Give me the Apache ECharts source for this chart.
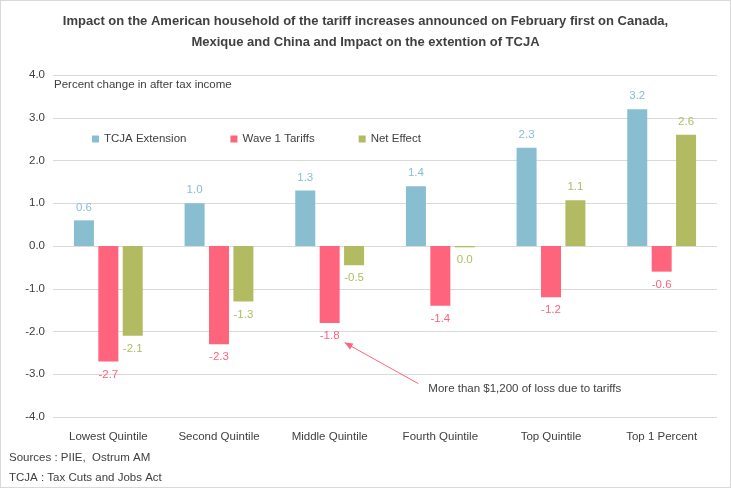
<!DOCTYPE html>
<html><head><meta charset="utf-8">
<script src="https://cdn.jsdelivr.net/npm/echarts@6/dist/echarts.min.js"></script>
<style>
html,body{margin:0;padding:0;background:#fff;}
#c{width:731px;height:488px;box-sizing:border-box;border:1px solid #d9d9d9;}
</style></head>
<body><div id="c"></div>
<script>
const categories = ['Lowest Quintile','Second Quintile','Middle Quintile','Fourth Quintile','Top Quintile','Top 1 Percent'];
const tcja = [0.6, 1.0, 1.3, 1.4, 2.3, 3.2];
const tariffs = [-2.7, -2.3, -1.8, -1.4, -1.2, -0.6];
const netEffect = [-2.1, -1.3, -0.45, -0.03, 1.07, 2.6];
const seriesNames = ['TCJA Extension','Wave 1 Tariffs','Net Effect'];
const colors = ['#88BED0','#FF647D','#B2BB62'];
const FONT = '"Liberation Sans Narrow","Arial Narrow","Liberation Sans",Arial,sans-serif';
const FS = 11.5;

const chart = echarts.init(document.getElementById('c'));
function fmt(p){ let v = p.value; if (Math.abs(v) < 0.05) v = 0; return v.toFixed(1); }
function mk(name, data, color){
  return {
    name, type:'bar', data, barWidth:20, barGap:'22%',
    itemStyle:{color},
    label:{show:true, position:'top', formatter: fmt, color, fontFamily:FONT, fontSize:FS, distance:7}
  };
}
const series = [mk(seriesNames[0], tcja, colors[0]), mk(seriesNames[1], tariffs, colors[1]), mk(seriesNames[2], netEffect, colors[2])];
series.forEach(s=>{
  s.data = s.data.map(v=>({value:v, label:{position: v<0?'bottom':'top'}}));
});
chart.setOption({
  animation:false,
  textStyle:{fontFamily:FONT},
  title:{
    text:'Impact on the American household of the tariff increases announced on February first on Canada,\nMexique and China and Impact on the extention of TCJA',
    left:'center', top:5,
    textStyle:{fontSize:13, fontWeight:'bold', color:'#404040', fontFamily:FONT, lineHeight:21}
  },
  legend:{
    data:seriesNames, left:86, top:127, itemWidth:7, itemHeight:7, itemGap:44, icon:'rect',
    textStyle:{fontSize:FS, color:'#404040', fontFamily:FONT}
  },
  grid:{left:52, right:13, top:74, bottom:70},
  xAxis:{
    type:'category', data:categories,
    axisLine:{show:false}, axisTick:{show:false},
    axisLabel:{interval:0, fontSize:FS, color:'#404040', fontFamily:FONT, margin:14}
  },
  yAxis:{
    type:'value', min:-4, max:4, interval:1,
    axisLabel:{formatter:v=>v.toFixed(1), fontSize:FS, color:'#404040', fontFamily:FONT, margin:8},
    splitLine:{lineStyle:{color:'#d9d9d9', width:1}},
    axisLine:{show:false}, axisTick:{show:false}
  },
  series
});

function draw(){
  const tip = chart.convertToPixel({gridIndex:0}, [categories[2], -2.26]);
  const end = chart.convertToPixel({gridIndex:0}, [categories[3], -3.22]);
  const txt = chart.convertToPixel({gridIndex:0}, [categories[3], -3.33]);
  const tipX = tip[0] + 15, tipY = tip[1];
  const endX = end[0] - 22, endY = end[1];
  const ang = Math.atan2(endY - tipY, endX - tipX);
  const L = 8, W = 3.5;
  const bx = tipX + L*Math.cos(ang), by = tipY + L*Math.sin(ang);
  const px = -Math.sin(ang)*W, py = Math.cos(ang)*W;
  chart.setOption({
    graphic:[
      {type:'text', left:53, top:78, style:{text:'Percent change in after tax income', fontSize:FS, fill:'#404040', fontFamily:FONT}},
      {type:'line', shape:{x1:tipX, y1:tipY, x2:endX, y2:endY}, style:{stroke:'#FF647D', lineWidth:1}},
      {type:'polygon', shape:{points:[[tipX,tipY],[bx+px,by+py],[bx-px,by-py]]}, style:{fill:'#FF647D'}},
      {type:'text', x:txt[0]-12, y:txt[1], style:{text:'More than $1,200 of loss due to tariffs', fontSize:FS, fill:'#404040', fontFamily:FONT, verticalAlign:'middle'}},
      {type:'text', left:8, top:451, style:{text:'Sources : PIIE,  Ostrum AM', fontSize:FS, fill:'#404040', fontFamily:FONT}},
      {type:'text', left:8, top:471, style:{text:'TCJA : Tax Cuts and Jobs Act', fontSize:FS, fill:'#404040', fontFamily:FONT}}
    ]
  });
}
draw();
</script></body></html>
